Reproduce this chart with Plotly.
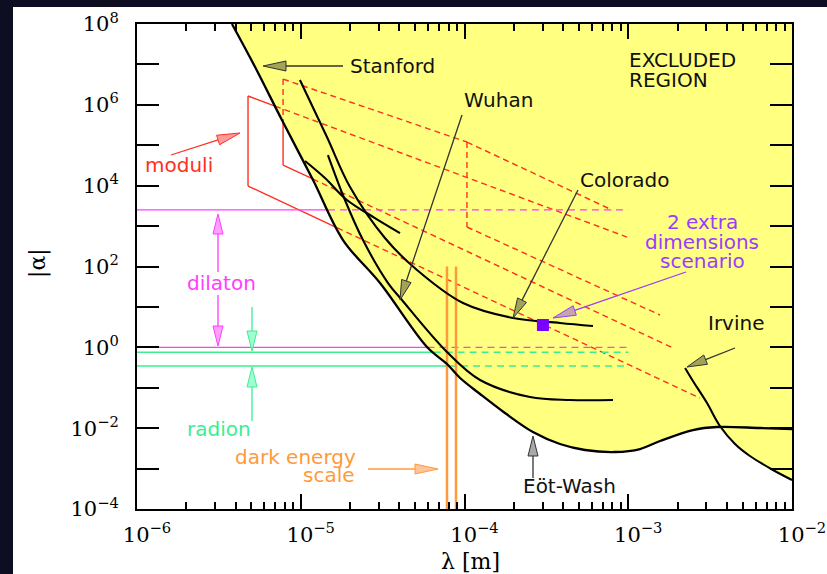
import numpy as np
import plotly.graph_objects as go

# ---------------- data (log10 values) ----------------
# main excluded-region boundary (Stanford / Eot-Wash envelope)
main_lam = [-5.420, -5.279, -5.115, -4.925, -4.742, -4.516, -4.229, -4.107, -4.027, -3.905,
            -3.753, -3.582, -3.417, -3.264, -3.081, -2.928, -2.806, -2.605, -2.458, -2.195, -2.000]
main_alpha = [7.999, 6.935, 5.624, 4.139, 2.655, 1.591, 0.008, -0.413, -0.759, -1.155,
              -1.625, -2.095, -2.392, -2.540, -2.590, -2.516, -2.318, -2.046, -1.971, -1.996, -2.021]
# Irvine
irv_lam = [-2.653, -2.605, -2.519, -2.440, -2.348, -2.257, -2.116, -2.000]
irv_alpha = [-0.512, -0.833, -1.378, -1.947, -2.392, -2.689, -3.035, -3.283]
# Wuhan
wuh_lam = [-4.834, -4.730, -4.620, -4.467, -4.382, -4.107, -3.905, -3.600, -3.356, -3.093]
wuh_alpha = [4.758, 3.645, 2.655, 1.591, 1.171, -0.116, -0.809, -1.229, -1.303, -1.303]
# Colorado
col_lam = [-5.005, -4.840, -4.699, -4.486, -4.290, -4.009, -3.704, -3.417, -3.215]
col_alpha = [6.613, 5.203, 3.966, 2.705, 1.913, 1.096, 0.725, 0.602, 0.527]
# Stanford (second run)
st2_lam = [-4.974, -4.852, -4.718, -4.547, -4.394]
st2_alpha = [4.610, 4.189, 3.645, 3.199, 2.828]

# moduli band outlines (lambda exponents, alpha exponents)
mod_a_lam = [[-5.322, -5.322], [-5.322, -3.008], [-5.322, -2.562]]
mod_a_alpha = [[6.218, 3.991], [6.218, 2.729], [3.991, -1.254]]
mod_b_lam = [[-5.108, -5.108], [-5.108, -3.985, -3.099], [-5.108, -2.727]]
mod_b_alpha = [[6.638, 4.511], [6.638, 5.080, 3.397], [4.511, -0.017]]
mod_c_lam = [[-3.985, -3.985], [-3.985, -2.806]]
mod_c_alpha = [[5.080, 2.977], [2.977, 0.800]]

# dilaton / radion horizontal bounds
dilaton_alpha = [3.40, 0.0]
radion_alpha = [-0.123, -0.462]
theory_end_lam = -3.0
# dark energy scale
dark_lam = [-4.107, -4.052]
dark_alpha_top = 2.0
# 2 extra dimensions scenario
xd_lam = [-3.521]
xd_alpha = [0.552]

x_tick_exp = [-6, -5, -4, -3, -2]
y_tick_exp = list(range(-4, 9))
X_RANGE = [-6, -2]
Y_RANGE = [-4, 8]

# ---------------- helpers ----------------
def P(x, y):
    """pixel position in the 827x574 picture -> paper coordinates"""
    return (x - 137) / 655.0, (509 - y) / 485.0

bx = np.array(main_lam)
by = np.array(main_alpha)

def pw(a):
    return [None if v is None else 10.0 ** v for v in a]

def split_segment(l0, a0, l1, a1, solid, dashed):
    t = np.linspace(0, 1, 801)
    lx = l0 + (l1 - l0) * t
    ly = a0 + (a1 - a0) * t
    ins = ly > np.interp(lx, bx, by)
    start = 0
    for i in range(1, len(t) + 1):
        if i == len(t) or ins[i] != ins[start]:
            end = min(i, len(t) - 1)
            tgt = dashed if ins[start] else solid
            tgt[0].extend(list(10 ** lx[start:end + 1]) + [None])
            tgt[1].extend(list(10 ** ly[start:end + 1]) + [None])
            start = i

def split_polyline(lams, alphas, solid, dashed):
    for j in range(len(lams) - 1):
        split_segment(lams[j], alphas[j], lams[j + 1], alphas[j + 1], solid, dashed)

fig = go.Figure()

# yellow excluded region
k = max(i for i, v in enumerate(main_lam) if v <= -2.458)
poly_l = main_lam[:k + 1] + [v for v in irv_lam if v > -2.44] + [X_RANGE[1], main_lam[0]]
poly_a = main_alpha[:k + 1] + [a for v, a in zip(irv_lam, irv_alpha) if v > -2.44] + [Y_RANGE[1], Y_RANGE[1]]
fig.add_trace(go.Scatter(x=pw(poly_l), y=pw(poly_a), fill="toself", fillcolor="#ffff80",
                         line=dict(width=0), mode="lines", hoverinfo="skip"))

RED = "#ff3020"
MAG = "#ff3cff"
GRN = "#3cee90"
ORA = "#ff9a3a"
PUR = "#9a3cff"

# moduli bands (solid where allowed, dashed inside the excluded region)
ms, md = ([], []), ([], [])
for lams_set, alph_set in ((mod_a_lam, mod_a_alpha), (mod_b_lam, mod_b_alpha), (mod_c_lam, mod_c_alpha)):
    for lams, alphas in zip(lams_set, alph_set):
        split_polyline(lams, alphas, ms, md)
fig.add_trace(go.Scatter(x=ms[0], y=ms[1], mode="lines", line=dict(color=RED, width=1.4), hoverinfo="skip"))
fig.add_trace(go.Scatter(x=md[0], y=md[1], mode="lines", line=dict(color=RED, width=1.4, dash="6px,4px"), hoverinfo="skip"))

# dilaton and radion
for vals, col in ((dilaton_alpha, MAG), (radion_alpha, GRN)):
    s, d = ([], []), ([], [])
    for a in vals:
        split_segment(X_RANGE[0], a, theory_end_lam, a, s, d)
    fig.add_trace(go.Scatter(x=s[0], y=s[1], mode="lines", line=dict(color=col, width=1.4), hoverinfo="skip"))
    fig.add_trace(go.Scatter(x=d[0], y=d[1], mode="lines", line=dict(color=col, width=1.4, dash="7px,5px"), hoverinfo="skip"))

# dark energy scale
for l in dark_lam:
    fig.add_trace(go.Scatter(x=[10 ** l, 10 ** l], y=[10 ** Y_RANGE[0], 10 ** dark_alpha_top], mode="lines",
                             line=dict(color=ORA, width=2.5), hoverinfo="skip"))

# experimental curves
for lam, al, w in ((main_lam, main_alpha, 2.3), (irv_lam, irv_alpha, 2.1), (wuh_lam, wuh_alpha, 2.1),
                   (col_lam, col_alpha, 2.1), (st2_lam, st2_alpha, 2.1)):
    fig.add_trace(go.Scatter(x=pw(lam), y=pw(al), mode="lines", line=dict(color="black", width=w, shape="spline"),
                             hoverinfo="skip"))

# 2 extra dimensions point
fig.add_trace(go.Scatter(x=pw(xd_lam), y=pw(xd_alpha), mode="markers",
                         marker=dict(symbol="square", size=12, color="#7a00ff"), hoverinfo="skip"))
# invisible trace to activate the mirror axes
fig.add_trace(go.Scatter(x=pw(xd_lam), y=pw(xd_alpha), xaxis="x2", yaxis="y2", mode="markers",
                         marker=dict(opacity=0), hoverinfo="skip"))

# ---------------- annotations ----------------
shapes = []
annotations = []

def arrow(tip, tail, lc, hc, L=20, w=5, lw=1.3):
    tx, ty = tip
    sx, sy = tail
    dx, dy = tx - sx, ty - sy
    n = (dx * dx + dy * dy) ** 0.5
    ux, uy = dx / n, dy / n
    bxp, byp = tx - L * ux, ty - L * uy
    nx, ny = -uy, ux
    x0, y0 = P(sx, sy)
    x1, y1 = P(bxp, byp)
    shapes.append(dict(type="line", xref="paper", yref="paper", x0=x0, y0=y0, x1=x1, y1=y1,
                       line=dict(color=lc, width=lw)))
    pts = [P(tx, ty), P(bxp + w * nx, byp + w * ny), P(bxp - w * nx, byp - w * ny)]
    path = "M {:.5f} {:.5f} L {:.5f} {:.5f} L {:.5f} {:.5f} Z".format(*pts[0], *pts[1], *pts[2])
    shapes.append(dict(type="path", path=path, xref="paper", yref="paper", fillcolor=hc,
                       line=dict(color=lc, width=1)))

def text(t, x, y, col, anchor="left", size=20, family="DejaVu Sans", angle=0):
    px, py = P(x, y)
    annotations.append(dict(x=px, y=py, xref="paper", yref="paper", text=t, showarrow=False, textangle=angle,
                            xanchor=anchor, yanchor="middle", font=dict(family=family, size=size, color=col)))

OLIVE = "#a3a356"
arrow((263, 66), (343, 66), "#333333", OLIVE, L=23)
arrow((400, 300), (462, 115), "#333333", OLIVE)
arrow((513, 318), (578, 190), "#333333", OLIVE)
arrow((687, 367), (735, 348), "#333333", OLIVE)
arrow((533, 436), (533, 478), "#333333", "#a8a8a8")
arrow((553, 318), (686, 272), PUR, "#c4a4b0", L=23)
arrow((240, 133), (171, 155), RED, "#ff9a9a", L=23)
arrow((438, 469), (368, 469), ORA, "#ffc49a", L=23)
arrow((218, 214), (218, 272), MAG, "#ffa0ff")
arrow((218, 346), (218, 295), MAG, "#ffa0ff")
arrow((252, 351), (252, 307), GRN, "#a0ffd0")
arrow((252, 367), (252, 421), GRN, "#a0ffd0")

text("Stanford", 348, 66, "#111111")
text("Wuhan", 462, 100, "#111111")
text("EXCLUDED", 627, 60, "#111111")
text("REGION", 627, 80, "#111111")
text("Colorado", 578, 180, "#111111")
text("2 extra", 702, 222, PUR, "center")
text("dimensions", 702, 242, PUR, "center")
text("scenario", 702, 261, PUR, "center")
text("Irvine", 706, 323, "#111111")
text("Eöt-Wash", 618, 486, "#111111", "right")
text("moduli", 143, 165, RED)
text("dilaton", 185, 283, MAG)
text("radion", 185, 429, GRN)
text("dark energy", 358, 457, ORA, "right")
text("scale", 357, 475, ORA, "right")

# axis titles
text("|α|", 38, 263, "black", "center", 22, "DejaVu Serif", -90)
text("λ [m]", 470, 561, "black", "center", 22, "DejaVu Serif")

# background frame: dark strips at top and left, white panel
x_left, _ = P(0, 0)
x_right, _ = P(827, 0)
_, y_top = P(0, 0)
_, y_bot = P(0, 574)
_, y_strip = P(0, 7)
x_strip, _ = P(13, 0)
DARK = "#0d0e22"
shapes.insert(0, dict(type="rect", xref="paper", yref="paper", x0=x_left, x1=x_right, y0=y_strip, y1=y_top,
                      fillcolor=DARK, line=dict(width=0), layer="below"))
shapes.insert(0, dict(type="rect", xref="paper", yref="paper", x0=x_left, x1=x_strip, y0=y_bot, y1=y_top,
                      fillcolor=DARK, line=dict(width=0), layer="below"))

def sup(e):
    return "10<sup>" + str(e).replace("-", "\u2212") + "</sup>"

x_minor = [m * 10.0 ** e for e in range(-6, -2) for m in range(2, 10)]
tickfont = dict(family="DejaVu Serif", size=21, color="black")
xa = dict(type="log", range=X_RANGE, tickmode="array", tickvals=[10.0 ** e for e in x_tick_exp],
          ticktext=[sup(e) for e in x_tick_exp], ticks="inside", ticklen=15, tickwidth=2, tickcolor="black",
          showline=True, linecolor="black", linewidth=2, mirror=True, showgrid=False, zeroline=False,
          tickfont=tickfont, ticklabelstandoff=6, ticklabelshift=10,
          minor=dict(tickmode="array", tickvals=x_minor, ticks="inside", ticklen=7, tickwidth=1.5,
                     tickcolor="black", showgrid=False))
ya = dict(type="log", range=Y_RANGE, tickmode="array", tickvals=[10.0 ** e for e in y_tick_exp],
          ticktext=[sup(e) if e % 2 == 0 else "" for e in y_tick_exp], ticks="inside", ticklen=22, tickwidth=2,
          tickcolor="black", showline=True, linecolor="black", linewidth=2, mirror=True, showgrid=False,
          zeroline=False, tickfont=tickfont, ticklabelstandoff=12)
xa2 = dict(xa, overlaying="x", side="top", showticklabels=False, anchor="y2")
ya2 = dict(ya, overlaying="y", side="right", showticklabels=False, anchor="x2")

fig.update_layout(width=827, height=574, margin=dict(l=137, r=35, t=24, b=65, autoexpand=False),
                  paper_bgcolor="white", plot_bgcolor="white", showlegend=False,
                  xaxis=xa, yaxis=ya, xaxis2=xa2, yaxis2=ya2,
                  shapes=shapes, annotations=annotations)

fig.write_html("out.html", config={"displayModeBar": False},
               post_script="document.body.style.margin='0';document.body.style.overflow='hidden';")
